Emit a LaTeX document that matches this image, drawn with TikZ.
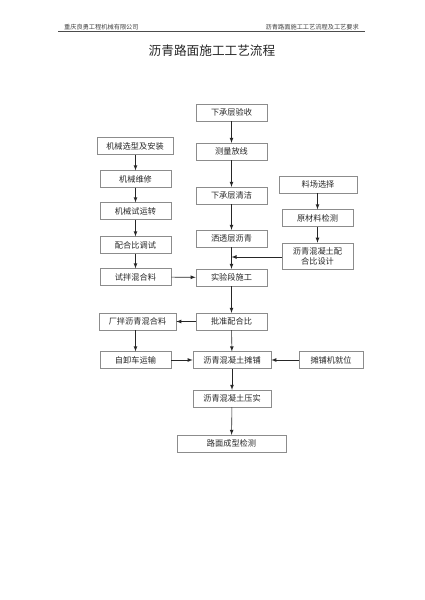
\documentclass[tikz,border=0pt]{standalone}
\usepackage{fontspec}
\setmainfont{Noto Sans CJK SC}
\usetikzlibrary{positioning}

\begin{document}
\begin{tikzpicture}[x=0.03cm, y=-0.03cm,
        stepbox/.style={rectangle, draw=black!45, line width=0.5pt, text=black!85,
            minimum width=2.13cm, minimum height=0.5cm, inner sep=1pt,
            font=\fontsize{7}{8.5}\selectfont},
        flow/.style={->, >=latex, line width=0.5pt, draw=black!85}]
    \useasboundingbox (0,0) rectangle (424,600);
    % header
    \node [anchor=west, font=\fontsize{5.3}{6}\selectfont, text=black!75] at (60, 27)  (firm)  {重庆良勇工程机械有限公司};
    \node [anchor=east, font=\fontsize{5.3}{6}\selectfont, text=black!75] at (363, 27) (doc)   {沥青路面施工工艺流程及工艺要求};
    \draw [black!70, line width=0.4pt] (58, 31.5) -- (365, 31.5);
    \node [font=\fontsize{10.8}{12}\selectfont, text=black!85] at (212, 51) (title) {沥青路面施工工艺流程};

    % middle column
    \node [stepbox] at (231.5, 112.5) (xcy)  {下承层验收};
    \node [stepbox] at (231.5, 151.5) (clfx) {测量放线};
    \node [stepbox] at (231.5, 195.5) (qj)   {下承层清洁};
    \node [stepbox] at (231.5, 238.5) (stc)  {洒透层沥青};
    \node [stepbox] at (231.5, 277.5) (syd)  {实验段施工};
    \node [stepbox] at (231.5, 321.5) (pzph) {批准配合比};
    \node [stepbox, minimum width=2.34cm] at (232, 360)   (tp)   {沥青混凝土摊铺};
    \node [stepbox, minimum width=2.34cm] at (232, 398.5) (ys)   {沥青混凝土压实};
    \node [stepbox, minimum width=3.27cm] at (231.5, 443.5) (lmjc) {路面成型检测};

    % left column
    \node [stepbox, minimum width=2.28cm] at (135, 146) (jxxx) {机械选型及安装};
    \node [stepbox] at (135.5, 179)   (jxwx) {机械维修};
    \node [stepbox] at (135.5, 211)   (jxsy) {机械试运转};
    \node [stepbox] at (135.5, 245)   (phts) {配合比调试};
    \node [stepbox] at (135.5, 277)   (sbhl) {试拌混合料};
    \node [stepbox, minimum width=2.31cm] at (137.5, 321.5) (cbhl) {厂拌沥青混合料};
    \node [stepbox] at (135.5, 360)   (zxc)  {自卸车运输};

    % right column
    \node [stepbox, minimum width=2.34cm] at (318, 184.5) (lcxz) {料场选择};
    \node [stepbox] at (317.5, 218) (ycl) {原材料检测};
    \node [stepbox, minimum height=0.78cm, align=center] at (317.5, 256) (phsj) {沥青混凝土配\\合比设计};
    \node [stepbox, minimum width=1.92cm] at (331, 360) (tpj) {摊铺机就位};
    \coordinate (join) at (231.5, 257);

    % connectors
    \draw [flow] (xcy) -- (clfx);
    \draw [flow] (clfx) -- (qj);
    \draw [flow] (qj) -- (stc);
    \draw [flow] (stc) -- (syd);
    \draw [flow] (phsj.west |- join) -- (join);
    \draw [flow] (syd) -- (pzph);
    \draw [flow] (pzph) -- (tp);
    \draw [flow] (tp) -- (ys);
    \draw [flow] (ys) -- (lmjc);

    \draw [flow] (jxxx.south -| jxwx) -- (jxwx);
    \draw [flow] (jxwx) -- (jxsy);
    \draw [flow] (jxsy) -- (phts);
    \draw [flow] (phts) -- (sbhl);
    \draw [flow] (sbhl) -- (syd);
    \draw [flow] (pzph) -- (cbhl);
    \draw [flow] (cbhl.south -| zxc) -- (zxc);
    \draw [flow] (zxc) -- (tp);

    \draw [flow] (lcxz.south -| ycl) -- (ycl);
    \draw [flow] (ycl) -- (phsj);
    \draw [flow] (tpj) -- (tp);
\end{tikzpicture}
\end{document}
